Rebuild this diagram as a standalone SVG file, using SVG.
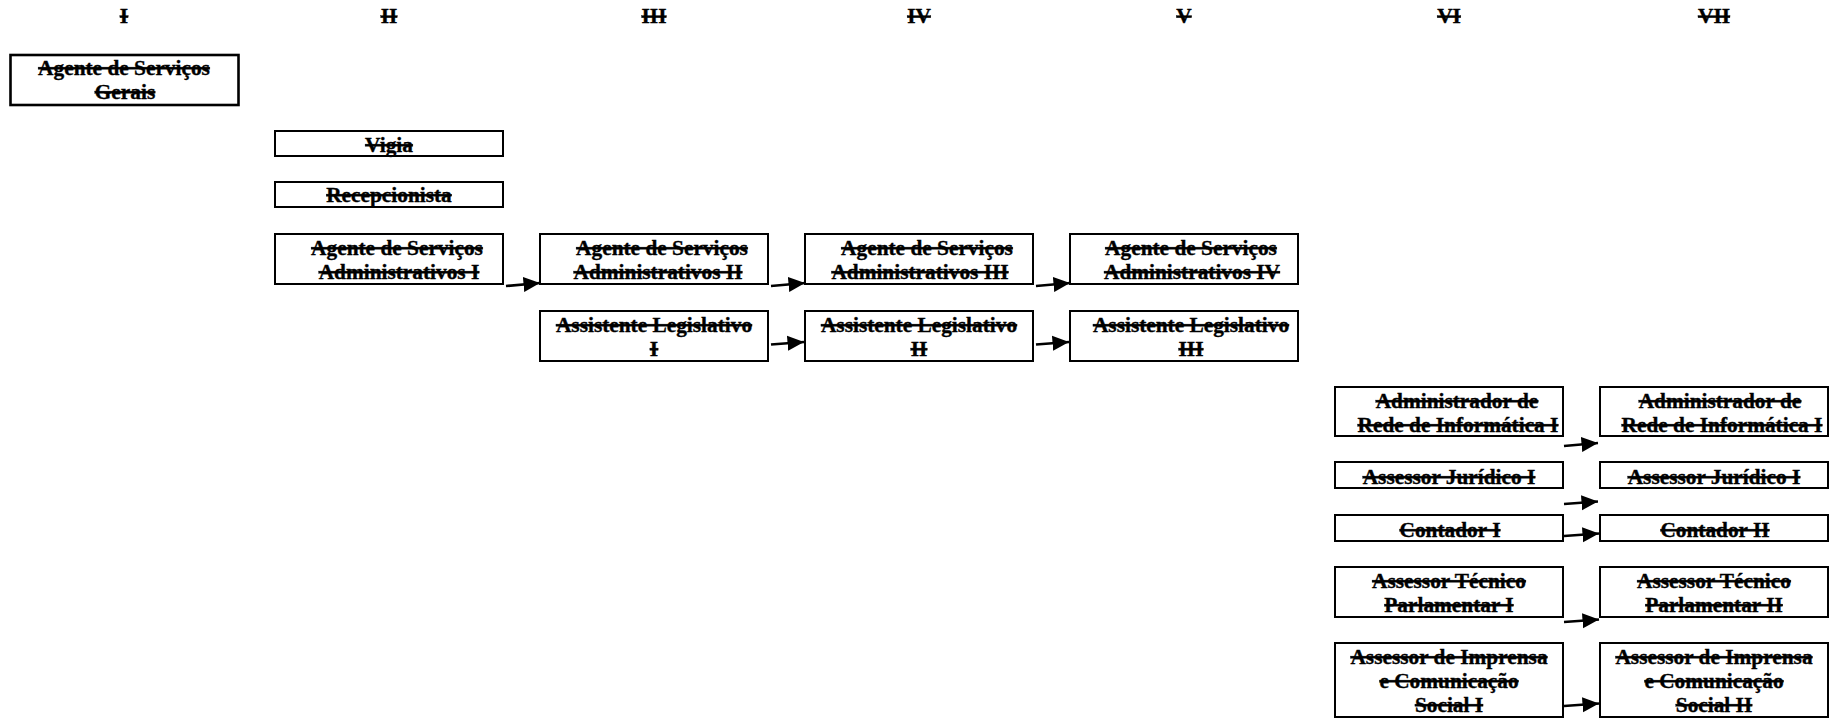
<svg xmlns="http://www.w3.org/2000/svg" width="1831" height="718" viewBox="0 0 1831 718">
  <style>
    .box { fill: #fff; stroke: #000; stroke-width: 2; }
    .box.thick { stroke-width: 2.6; }
    .t { font-family: "Liberation Serif", "Times New Roman", serif; font-weight: bold; font-size: 21.33px; text-decoration: line-through; text-anchor: middle; fill: #000; stroke: #000; stroke-width: 0.35; }
    g:not(#headers) > .t { transform: translate(0px, 1.5px); }
    .arr { stroke: #000; stroke-width: 2.7; fill: none; marker-end: url(#ah); }
  </style>
  <defs>
    <marker id="ah" markerUnits="userSpaceOnUse" markerWidth="17" markerHeight="17" viewBox="0 0 17 17" refX="16.5" refY="8.5" orient="auto">
      <path d="M0,1 L16.5,8.5 L0,16 z" fill="#000"/>
    </marker>
  </defs>
  <rect width="1831" height="718" fill="#fff"/>

  <!-- level headings -->
  <g id="headers">
    <text class="t" x="124" y="23">I</text>
    <text class="t" x="389" y="23">II</text>
    <text class="t" x="654" y="23">III</text>
    <text class="t" x="919" y="23">IV</text>
    <text class="t" x="1184" y="23">V</text>
    <text class="t" x="1449" y="23">VI</text>
    <text class="t" x="1714" y="23">VII</text>
  </g>

  <!-- level I -->
  <g id="agente-servicos-gerais">
    <rect class="box thick" x="10.5" y="55" width="228" height="50"/>
    <text class="t" x="124" y="73">Agente de Serviços</text>
    <text class="t" x="125" y="97">Gerais</text>
  </g>

  <!-- level II -->
  <g id="vigia">
    <rect class="box" x="275" y="131" width="228" height="25"/>
    <text class="t" x="389" y="150">Vigia</text>
  </g>
  <g id="recepcionista">
    <rect class="box" x="275" y="182" width="228" height="25"/>
    <text class="t" x="389" y="200">Recepcionista</text>
  </g>
  <g id="agente-adm-1">
    <rect class="box" x="275" y="234" width="228" height="50"/>
    <text class="t" x="397" y="253">Agente de Serviços</text>
    <text class="t" x="399" y="277">Administrativos I</text>
  </g>

  <!-- level III -->
  <g id="agente-adm-2">
    <rect class="box" x="540" y="234" width="228" height="50"/>
    <text class="t" x="662" y="253">Agente de Serviços</text>
    <text class="t" x="658" y="277">Administrativos II</text>
  </g>
  <g id="assistente-leg-1">
    <rect class="box" x="540" y="311" width="228" height="50"/>
    <text class="t" x="654" y="330">Assistente Legislativo</text>
    <text class="t" x="654" y="354">I</text>
  </g>

  <!-- level IV -->
  <g id="agente-adm-3">
    <rect class="box" x="805" y="234" width="228" height="50"/>
    <text class="t" x="927" y="253">Agente de Serviços</text>
    <text class="t" x="920" y="277">Administrativos III</text>
  </g>
  <g id="assistente-leg-2">
    <rect class="box" x="805" y="311" width="228" height="50"/>
    <text class="t" x="919" y="330">Assistente Legislativo</text>
    <text class="t" x="919" y="354">II</text>
  </g>

  <!-- level V -->
  <g id="agente-adm-4">
    <rect class="box" x="1070" y="234" width="228" height="50"/>
    <text class="t" x="1191" y="253">Agente de Serviços</text>
    <text class="t" x="1192" y="277">Administrativos IV</text>
  </g>
  <g id="assistente-leg-3">
    <rect class="box" x="1070" y="311" width="228" height="50"/>
    <text class="t" x="1191" y="330">Assistente Legislativo</text>
    <text class="t" x="1191" y="354">III</text>
  </g>

  <!-- level VI -->
  <g id="admin-rede-6">
    <rect class="box" x="1335" y="387" width="228" height="49"/>
    <text class="t" x="1457" y="406">Administrador de</text>
    <text class="t" x="1458" y="430">Rede de Informática I</text>
  </g>
  <g id="assessor-juridico-6">
    <rect class="box" x="1335" y="462" width="228" height="26"/>
    <text class="t" x="1449" y="482">Assessor Jurídico I</text>
  </g>
  <g id="contador-6">
    <rect class="box" x="1335" y="515" width="228" height="26"/>
    <text class="t" x="1450" y="535">Contador I</text>
  </g>
  <g id="assessor-tecnico-6">
    <rect class="box" x="1335" y="567" width="228" height="50"/>
    <text class="t" x="1449" y="586">Assessor Técnico</text>
    <text class="t" x="1449" y="610">Parlamentar I</text>
  </g>
  <g id="assessor-imprensa-6">
    <rect class="box" x="1335" y="643" width="228" height="74"/>
    <text class="t" x="1449" y="662">Assessor de Imprensa</text>
    <text class="t" x="1449" y="686">e Comunicação</text>
    <text class="t" x="1449" y="710">Social I</text>
  </g>

  <!-- level VII -->
  <g id="admin-rede-7">
    <rect class="box" x="1600" y="387" width="228" height="49"/>
    <text class="t" x="1720" y="406">Administrador de</text>
    <text class="t" x="1722" y="430">Rede de Informática I</text>
  </g>
  <g id="assessor-juridico-7">
    <rect class="box" x="1600" y="462" width="228" height="26"/>
    <text class="t" x="1714" y="482">Assessor Jurídico I</text>
  </g>
  <g id="contador-7">
    <rect class="box" x="1600" y="515" width="228" height="26"/>
    <text class="t" x="1715" y="535">Contador II</text>
  </g>
  <g id="assessor-tecnico-7">
    <rect class="box" x="1600" y="567" width="228" height="50"/>
    <text class="t" x="1714" y="586">Assessor Técnico</text>
    <text class="t" x="1714" y="610">Parlamentar II</text>
  </g>
  <g id="assessor-imprensa-7">
    <rect class="box" x="1600" y="643" width="228" height="74"/>
    <text class="t" x="1714" y="662">Assessor de Imprensa</text>
    <text class="t" x="1714" y="686">e Comunicação</text>
    <text class="t" x="1714" y="710">Social II</text>
  </g>

  <!-- promotion arrows -->
  <g id="connectors">
    <line class="arr" x1="506" y1="286" x2="540" y2="283"/>
    <line class="arr" x1="771" y1="286" x2="805" y2="283"/>
    <line class="arr" x1="1036" y1="286" x2="1070" y2="283"/>
    <line class="arr" x1="771" y1="344.5" x2="804" y2="342"/>
    <line class="arr" x1="1036" y1="344.5" x2="1069" y2="342"/>
    <line class="arr" x1="1564" y1="446" x2="1598" y2="443"/>
    <line class="arr" x1="1564" y1="504" x2="1598" y2="501.5"/>
    <line class="arr" x1="1564" y1="536" x2="1599" y2="533.5"/>
    <line class="arr" x1="1564" y1="622" x2="1599" y2="619.5"/>
    <line class="arr" x1="1564" y1="706" x2="1599" y2="703.5"/>
  </g>
</svg>
